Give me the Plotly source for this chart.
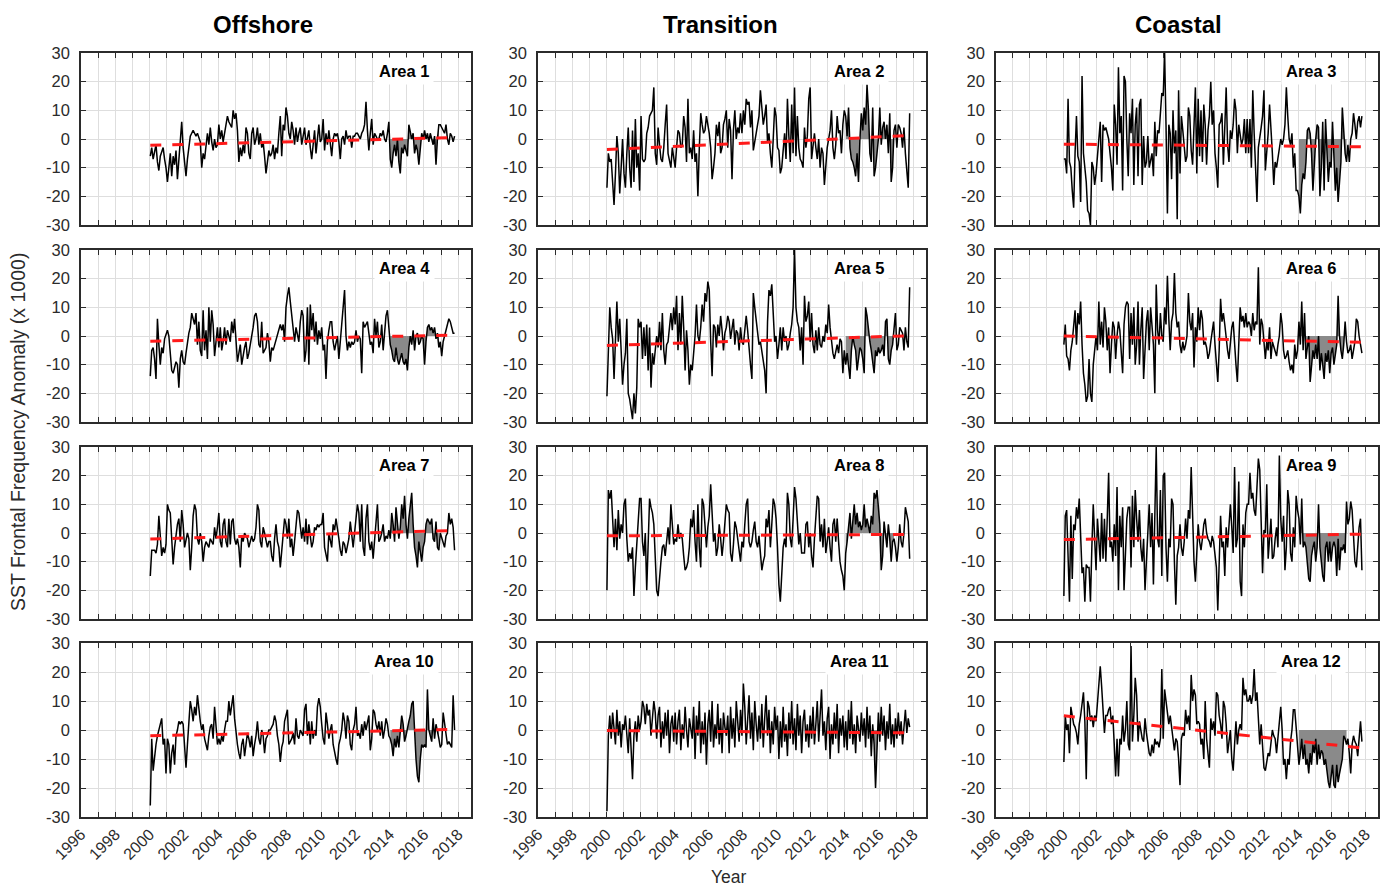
import plotly.graph_objects as go

W, H = 1383, 886

# ---------------- data (monthly anomalies, Jan 2000 .. Oct 2017) ----------------
area1 = [
    -6, -3, -7, -4, -2, -8, -11, -6, -4, -3, -7, -10,
    -15, -9, -5, -13, -6, -9, -4, -14, -7, 0, 6, -3,
    -9, -13, -7, -2, 1, 2, 3, 2, 1, 2, 0, -1,
    -10, -5, -7, -2, 2, -2, 4, -1, -4, 0, -3, -2,
    5, 0, 3, -1, 2, 6, 8, 6, 5, 4, 10, 7,
    9, 3, -8, -3, -6, -2, -5, 4, 2, -5, -7, 2,
    4, -2, 0, 4, -2, 2, -3, -1, -6, -12, -8, -4,
    -6, -5, -2, -7, -3, -5, 2, 8, -6, 5, 3, 11,
    8, 2, 0, 6, 3, -2, 4, -1, 2, 4, -2, 1,
    4, -2, 0, 3, -3, -7, -2, 3, -5, 1, 5, -1,
    0, 7, -4, 2, -2, 3, -2, -6, 0, 2, 1, 2,
    -1, -7, 0, 1, -2, 3, 0, 1, 1, -3, 1, 1,
    2, 2, 1, 0, 2, 3, 5, 13, 3, -4, 2, 7,
    -2, 2, 1, 0, 0, 2, 1, 3, 0, -1, 2, 6,
    -7, -10, -5, -2, -6, 0, -8, -12, -3, -5, -2, -4,
    -6, 5, 2, 0, 2, -5, -2, -4, -9, -3, 2, 0,
    3, 0, 2, -1, 2, 0, -2, 1, -9, 0, 5, 5,
    4, 3, 2, 5, 0, -2, 2, 1, -1, 1,
]
area2 = [
    -17, -5, -8, -7, -15, -23, -12, 1, -5, -19, -10, 0,
    -12, -17, -5, 4, -10, -17, 3, -15, 7, -10, -5, -18,
    8, -7, -8, -7, 2, 4, 8, 9, 10, 18, -5, -9,
    4, -2, -7, -8, -3, 5, 12, -5, -7, -10, -3, -7,
    -10, -3, 3, 2, -3, -2, 8, 4, -8, 14, -5, -3,
    -7, 3, -8, -5, -20, -3, 9, 5, 2, 3, 8, 5,
    2, -3, -14, -10, -5, 5, 1, 6, -5, -3, 5, 7,
    10, -3, 7, 3, -14, 3, 10, 0, 4, 2, 9, 2,
    10, 5, 14, 12, 13, 4, 10, -4, 0, 2, 5, 8,
    17, 12, 5, 8, 12, -1, 2, -5, -10, 0, 11, 8,
    -3, -4, -12, -10, -5, 2, -7, 14, 1, -8, 12, -5,
    18, -6, 8, -3, -7, -8, -10, 4, -3, 1, 14, 18,
    -7, -3, 2, -3, -7, 0, -10, -3, -5, -16, -8, -3,
    0, 3, 10, -3, -7, -2, 8, 2, 3, -5, 5, 10,
    8, 1, 11, -3, -7, -8, -10, -13, -5, -15, 0, 9,
    3, 11, 5, 19, 10, -5, -8, 11, -13, -10, -5, 0,
    11, -2, 4, 6, 0, 5, -5, 9, -15, -10, 3, 5,
    -3, 5, 4, 2, -3, 4, -5, -12, -17, 9,
]
area3 = [
    -7, -7, -12, 14, -8, -10, -18, -24, -5, 8, -6, -8,
    -22, 22, -5, -10, -15, -25, -26, -30, -8, -10, -16, -12,
    -5, 0, 6, -15, 5, 3, 4, 2, 0, -5, -10, -18,
    12, 5, -9, 25, 2, 8, -18, 22, 20, 0, -13, 9,
    2, 14, -16, 5, 11, -13, 12, 14, -16, 1, -10, -8,
    1, -10, -8, -5, -13, 6, -6, 3, 2, 8, 16, 15,
    30, 5, -26, 5, 2, -14, 10, -5, 3, -28, 17, -12,
    8, 3, -3, -8, -6, 11, 8, -4, -9, 2, 18, -12,
    14, -6, 10, -8, 12, 5, -9, 3, 8, 20, 5, 10,
    -5, -10, -17, 5, 6, 9, -9, 4, 18, -2, -8, 3,
    0, 5, 14, 10, -5, 5, 2, -2, 0, 7, -5, 7,
    -5, 7, -10, 17, 2, -8, -22, -3, 0, 4, 8, 17,
    -11, -5, 2, 12, 5, -5, -16, -8, -10, -6, -3, 0,
    -2, 0, 5, 18, 8, 0, -2, 2, -10, -5, -18, -18,
    -20, -26, -16, -12, -14, -8, 3, 4, 2, -5, -18, -8,
    0, 5, 4, -20, -10, 6, -18, 7, -8, -15, -8, -10,
    6, -5, -18, -10, -22, -15, -8, 11, 3, -5, -8, -2,
    -8, 0, 2, 9, 5, 0, 6, 8, 4, 8,
]
area4 = [
    -14, -5, -4, -8, -15, 6, -3, -10, -4, -6, -1, 1,
    2, 0, -5, -12, -13, -11, -9, -10, -18, -8, -5, -9,
    -10, -6, -2, 1, 3, 8, 6, 4, 8, -3, 5, -5,
    -7, 9, -5, 2, -8, 10, -2, 9, 4, -7, -2, 3,
    -4, 3, -5, -2, 3, -3, 2, 0, -2, 5, 1, 6,
    -2, -9, -6, -3, -10, -6, -4, -2, -8, -6, -3, -1,
    3, 7, 8, 5, -3, -4, 5, -6, -5, -4, 1, -2,
    -9, -4, -5, -3, -1, 0, 2, 4, 2, 4, -2, 10,
    14, 17, 12, 8, 4, -2, 3, 1, -2, 5, 9, 7,
    -9, -5, 10, -10, 11, 2, 8, -2, 5, -3, 2, -1,
    3, -5, -3, -15, -2, 2, 5, 5, -2, -5, -2, 0,
    -8, -3, 4, 10, 16, 0, -5, -2, -4, -2, -3, -2,
    2, -2, 0, -1, -13, 5, 3, 4, 5, 1, -3, -2,
    -6, 6, 0, 5, -4, -2, 4, -5, 2, 7, 9, 2,
    -3, -5, -8, -9, -4, -8, -10, -8, -6, -9, -10, -8,
    -12, -4, 0, -3, 2, -5, 0, 1, -3, -2, 0, -1,
    -10, -2, 3, 4, 2, 3, 1, 3, -1, 1, -4, -2,
    -7, -2, 0, 2, 5, 6, 5, 3, 1, 1,
]
area5 = [
    -21, -3, 10, 3, -1, -15, 2, 12, -2, 6, -5, -17,
    -10, -6, 6, -20, -22, -25, -29, -20, -27, -18, 6, 3,
    5, -8, 3, -7, 4, -12, 3, -18, -6, -10, -5, 0,
    -4, 5, -5, 8, -5, -10, -3, -2, 3, 8, 2, 10,
    4, 14, -5, 8, -3, 14, 3, -12, 2, -5, -17, -10,
    -12, -5, 0, 11, 0, -2, 3, 11, 5, 15, 12, 19,
    16, -2, -14, 4, 3, -4, 4, 0, 7, 2, -5, 1,
    3, 7, 5, -1, 3, 6, -3, 2, 1, -5, 3, -2,
    -3, 3, 7, 2, -5, -10, -15, 15, 10, 5, 0, -3,
    -2, -5, -8, -12, -20, 5, 16, 14, 18, 5, -2, 0,
    -8, -3, 3, -5, 3, -2, 0, -5, -3, 1, 4, 10,
    30, 10, 5, 3, -5, 3, -10, 14, 5, 7, 12, -2,
    8, -3, -6, 2, -5, 3, -3, -4, 0, -2, 4, 1,
    11, 3, -3, -6, -8, -5, -3, -6, -1, -2, -13, -5,
    -10, -6, -11, -15, -5, 0, -3, -5, -12, -7, -4, -5,
    -8, -13, 10, 7, 2, -2, -5, -10, -13, -5, -7, -4,
    -6, -5, -3, -7, 5, 6, -8, -10, -5, -3, 3, 8,
    -5, -3, 3, 2, 1, -5, 3, -2, -4, 17,
]
area6 = [
    -3, 4, -7, -8, -12, -5, -2, 4, 9, -3, 8, 4,
    12, -3, -13, -17, -23, -21, -8, -20, -23, -10, -5, 0,
    -5, 12, -3, 5, -4, 10, 5, -5, 3, -13, -3, 5,
    3, -8, 0, 5, 2, -5, -13, 4, 10, 12, 11, -8,
    8, -3, 10, -10, -3, 12, -10, 2, 10, -15, -5, 5,
    9, -5, 10, 4, -3, -20, 18, 2, -3, 8, 0, -2,
    10, 4, 21, 6, -5, 5, 8, 22, 8, 3, 5, -3,
    -6, -2, -5, -3, 0, 15, 5, 2, 8, -11, 3, -2,
    10, 2, 9, 6, -3, -2, -4, -8, -6, -2, 2, 5,
    -3, -9, -16, -5, 13, 5, 8, 4, -2, -5, -8, -3,
    3, 5, -5, -10, -16, -3, 10, 5, 7, 3, 8, 3,
    5, 4, 0, 8, 2, 5, 4, 24, -3, 6, 4, -2,
    -8, -2, -5, 3, -8, -2, -4, -5, -7, -3, 0, 8,
    4, -5, -8, -7, -5, -9, -12, -10, -13, -3, -8, -5,
    5, -3, 12, -5, 8, -8, -3, 0, -16, -10, -5, -8,
    -3, -8, 0, -12, -6, -10, -15, -6, -9, -5, -13, -6,
    -4, -10, -7, -3, 14, 0, -5, -8, -3, 5, -2, -6,
    -5, -3, -8, -5, -2, 6, 5, 0, -4, -6,
]
area7 = [
    -15, -6, -6, -6, -7, -4, 6, -3, -8, -5, -7, -4,
    10, 8, 7, -2, -11, -5, 0, 3, 5, -3, 8, 3,
    -5, -2, 0, -2, -13, -5, 6, 10, 8, -2, -4, 0,
    -3, -10, -5, -3, -4, -5, -2, -3, -4, 2, -2, 2,
    7, -3, -5, 3, 5, -3, -5, 5, -4, 4, 5, -2,
    -4, -2, -5, -12, -1, -3, 0, -1, -2, -5, -3, -1,
    -3, -2, 2, 10, 8, -3, -5, 2, 0, -2, -5, -3,
    -3, -8, -10, -2, 3, -3, -5, -12, -6, 2, 5, 3,
    -2, 5, -5, -2, -8, -3, 2, 8, 7, 3, -2, 2,
    -3, 5, -4, 3, -2, -5, -3, 2, 1, 3, 2, 3,
    3, 7, -5, -7, -10, 0, -2, -5, 3, 1, 5, 2,
    -2, -6, -8, -3, -4, -7, -5, -2, 4, -2, -5, 0,
    5, 10, 7, -3, 10, -5, -8, 5, 10, -3, -6, -3,
    -9, -3, 6, 10, -3, -2, 0, 3, -3, -1, -2, 1,
    -2, 7, 3, -3, 9, 2, -2, 2, 10, 5, 13, 3,
    -2, 5, 10, 14, 3, -5, -8, -12, -3, -6, -10, -5,
    -3, 3, 5, 4, 3, 5, -2, -3, 4, -5, -6, 0,
    -2, -4, -5, -1, 0, 7, 3, 5, 2, -6,
]
area8 = [
    -20, 15, 12, 15, 5, -5, 5, -6, 8, -2, 3, 0,
    10, 12, -2, -10, -7, -9, -5, -22, -12, -3, 5, 12,
    12, -3, -8, 0, -20, -2, 12, 9, 7, 3, -10, -20,
    -22, -15, -10, -5, -4, -8, -3, 2, -4, 10, 3, -4,
    -2, -3, 3, -2, 0, -2, -8, -13, -12, -10, -5, 5,
    2, 8, -3, -10, 10, -5, -12, 12, 10, 3, -5, 2,
    6, 17, 5, -3, 0, -8, -5, 3, -2, -8, -3, 4,
    10, 8, 7, -7, -10, -4, 4, 2, -2, -5, -10, -3,
    -5, 3, 10, 12, -3, -5, -3, 1, 4, -3, -5, -1,
    -8, -13, -10, -8, 5, 2, 8, -5, 3, 12, 10, 5,
    -5, -18, -24, -12, -5, -2, -5, 14, 10, -2, -5, 5,
    16, 12, 5, -4, 0, -7, -7, -7, 3, 4, -5, 0,
    -8, -12, -2, 8, 13, 12, -3, 3, -5, 5, -7, -3,
    2, -5, -10, 3, 5, -3, 5, -3, -10, -13, -15, -20,
    -7, -3, 2, 7, -2, 4, 10, 3, 7, 2, 4, 1,
    3, 10, 2, 5, 2, 0, 6, 3, 14, 12, 15, 8,
    3, -13, -8, 4, -2, -5, 3, -2, -10, -3, -2, -5,
    -10, -5, 3, -3, -5, 0, 9, 7, 4, -9,
]
area9 = [
    -22, 6, 8, -8, -24, 6, -16, 3, 1, 9, 5, 12,
    -2, -14, -12, -24, -11, -12, -12, -24, -5, 10, -2, -13,
    5, -3, -10, 7, -9, 5, -10, 5, 21, -5, -3, -10,
    3, -8, 16, -20, 6, -5, 9, -20, -5, 5, 9, 9,
    -12, 13, -5, 15, 5, -3, 8, -5, -10, -2, -20, -8,
    0, 10, -5, 7, -18, 5, 30, -2, -5, 15, -15, 20,
    21, -5, -17, -2, -5, 12, 10, -10, -25, -8, -5, 3,
    -5, -8, -3, 5, -2, 8, 5, 23, 5, -10, -17, -5,
    3, -3, -6, -2, 3, 5, 0, -2, -3, -5, -1, -3,
    -7, -12, -27, -5, 6, -5, -3, -15, 2, -5, 5, 10,
    2, -7, 23, -5, -2, 18, -17, -22, 3, -5, 7, 10,
    10, 21, 12, 14, 8, 6, 16, 26, 22, 5, -14, 1,
    0, 17, -9, -2, 5, -9, -8, -2, 2, -5, 27, 5,
    -3, 6, -13, -5, 15, 10, -7, -10, 2, -5, 13, 8,
    5, -4, 12, -5, -3, -5, -10, -16, -17, -8, -5, -3,
    -10, -5, 10, -5, -10, -15, -17, -5, -3, -10, -3, -10,
    -5, -3, -5, -15, -2, -13, -5, -6, -4, -7, 11, 3,
    5, 11, 8, -4, -10, -12, -5, 2, 5, -13,
]
area10 = [
    -26, -3, -14, -8, -5, -2, 0, 2, 4, -5, -3, -15,
    -3, -5, -15, -8, -5, -12, -2, 0, 3, 2, 3, 2,
    -8, -13, -5, 3, 10, 7, 3, 8, 5, 12, 6, 3,
    0, 2, -3, -5, -7, -2, 1, 2, -3, 8, 2, -5,
    -3, -5, -2, -4, 0, 3, 3, 10, 5, 8, 12, 4,
    -2, -5, -8, -10, -5, -3, -9, -5, -1, -3, -6, -2,
    -9, -5, -2, 3, -3, -5, 0, -2, -8, -3, -2, 0,
    0, 1, 2, 5, 3, -2, -5, -11, -6, -4, 3, 5,
    7, -5, -4, -3, -1, -5, 4, -2, -3, 0, -1, -2,
    7, 9, -2, 3, -5, 3, -3, 0, -2, 8, 11, 8,
    2, -3, -5, 6, 2, -3, 0, 2, -5, -8, -10, -12,
    -5, -3, 0, 6, 3, -3, 5, 3, -5, -7, 0, 2,
    8, -2, -1, -3, 2, -2, 3, 0, 2, 5, -7, -3,
    7, 6, 2, 0, 3, -2, 3, -3, 0, 4, 2, -2,
    -3, -5, -9, -3, -6, -2, -6, 0, 5, 2, -4, -2,
    1, 3, 5, 9, 10, -3, -10, -16, -18, -10, -5, -6,
    -5, -6, 14, 0, -2, -4, 4, -3, 2, 0, -3, -6,
    -5, 6, 2, -3, -5, -4, -5, -6, 12, 0,
]
area11 = [
    -28, -2, 5, -3, 6, 0, -5, 7, -2, 3, -6, 2,
    0, 5, -3, -8, 4, -5, -17, -2, 3, -4, 5, 0,
    3, 10, 8, 2, 9, 5, 7, -2, 4, 10, 6, -3,
    5, 8, -6, 3, -3, 6, -2, 7, -8, 2, 5, -4,
    6, -5, 3, 7, -7, 2, -3, 8, 0, -6, 4, 1,
    -3, 8, -10, 5, -2, 10, -8, 3, -5, 6, -12, 2,
    7, -4, 10, -6, 2, -3, 9, -5, 4, -8, 6, 1,
    -2, 5, -8, 8, -3, 4, -6, 10, 2, -4, 7, -2,
    16, 8, -5, 3, 12, -3, 6, -7, 10, 2, -4, 5,
    -3, 9, -6, 4, 12, -2, 7, -8, 3, -5, 8, 0,
    5, -10, 3, -6, 8, -4, 2, -9, 6, -3, 10, -5,
    4, -7, 9, -2, 5, -8, 3, 7, -4, 2, -6, 5,
    -3, 8, -5, 2, 10, -4, 6, 14, -2, 3, -7, 4,
    8, -10, 2, -5, 6, -3, 9, -8, 4, -2, 5, -6,
    3, -7, 7, -3, 10, -5, 2, -8, 5, 0, -4, 6,
    -2, 4, -6, 8, -3, 5, -9, 2, -5, -20, -3, 6,
    -4, 8, -2, 5, -7, 3, -3, 9, -5, 2, -6, 4,
    -3, 6, -2, 3, -5, 2, 7, -1, 4, 1,
]
area12 = [
    -11, 5, 0, 2, -8, 8, 5, 2, 1, -1, -5, 2,
    5, 10, 13, 3, -17, 10, 8, 3, 5, 1, 5, 3,
    10, 15, 22, 15, 5, -1, 5, 5, 7, 8, 2, 5,
    -5, -16, -3, -16, -3, -5, 5, -4, 0, 10, -5, -7,
    29, -4, 5, 18, 12, -4, 3, 0, -3, -4, 4, -1,
    -5, -8, -9, -5, -8, -3, -5, -4, -6, -3, 21, -3,
    14, 10, 5, 2, 5, 1, -5, -7, -3, -4, -10, -19,
    -3, -1, -2, 7, 2, 5, 0, 19, 10, 14, 12, 2,
    3, 2, -5, -3, -10, 10, -3, -8, -13, 4, 0, 3,
    -2, 13, 12, 5, 2, -3, 10, 8, 2, -8, -3, 0,
    -10, -14, -5, 3, -5, 0, 2, 0, 18, 12, 14, 10,
    10, 12, 9, 12, 21, 10, 13, 5, -5, 2, -5, -13,
    -14, -10, -8, -9, -4, 0, -2, -3, -8, -3, 3, 8,
    0, -12, -10, -17, -10, -12, -4, 0, 7, 7, 1, -5,
    -12, -8, -3, -10, -5, -12, -10, -15, -8, -12, -5, -8,
    -3, -12, -5, -10, -7, -8, -12, -10, -15, -18, -20, -15,
    -12, -19, -20, -12, -18, -15, -13, -10, -2, -3, -5, -3,
    -8, -15, -5, -2, -4, -5, -9, -3, 3, -4,
]

areas = [area1, area2, area3, area4, area5, area6,
         area7, area8, area9, area10, area11, area12]
area_labels = ["Area 1", "Area 2", "Area 3", "Area 4", "Area 5", "Area 6",
               "Area 7", "Area 8", "Area 9", "Area 10", "Area 11", "Area 12"]
trend_start = [-2.2, -3.7, -1.8, -1.8, -3.3, 0.0, -2.1, -1.0, -2.3, -2.0, -0.2, 4.9]
trend_end = [0.5, 1.2, -2.7, 0.3, 0.1, -2.2, 0.9, -0.5, -0.4, 0.2, -1.0, -6.2]
column_titles = ["Offshore", "Transition", "Coastal"]
year_ticks = list(range(1996, 2019))
year_labels = [str(y) if y % 2 == 0 else "" for y in year_ticks]
y_ticks = [-30, -20, -10, 0, 10, 20, 30]
y_labels = ["-30", "-20", "-10", "0", "10", "20", "30"]
shade_from, shade_to = 168, 203   # Jan 2014 .. Nov 2016 (month indices)

# ---------------- layout geometry (pixels) ----------------
col_px = [(81, 471), (538, 926), (996, 1378)]
row_px = [(53, 225), (250, 422), (447, 619), (643, 817)]
title_px = [263, 720, 1178]

FONT = "Liberation Sans, Arial, Helvetica, sans-serif"
AX = "#2b2b2b"

fig = go.Figure()
layout = dict(
    width=W, height=H, margin=dict(l=0, r=0, t=0, b=0, autoexpand=False),
    paper_bgcolor="white", plot_bgcolor="white", showlegend=False,
    font=dict(family=FONT, size=16, color=AX),
)
annotations = []

for k, vals in enumerate(areas):
    r, c = divmod(k, 3)
    n = k + 1
    xa = "x" if n == 1 else f"x{n}"
    ya = "y" if n == 1 else f"y{n}"
    xs = [2000 + (i + 0.5) / 12 for i in range(len(vals))]

    fig.add_trace(go.Scatter(
        x=xs[shade_from:shade_to], y=vals[shade_from:shade_to], mode="lines",
        fill="tozeroy", fillcolor="#8a8a8a", line=dict(width=0, color="#8a8a8a"),
        xaxis=xa, yaxis=ya, hoverinfo="skip"))
    fig.add_trace(go.Scatter(
        x=xs, y=vals, mode="lines", line=dict(color="black", width=1.5),
        xaxis=xa, yaxis=ya))
    fig.add_trace(go.Scatter(
        x=[xs[0], xs[-1]], y=[trend_start[k], trend_end[k]], mode="lines",
        line=dict(color="#ff1a1a", width=3, dash="11px,11px"),
        xaxis=xa, yaxis=ya))

    x0, x1 = col_px[c]
    y0, y1 = row_px[r]
    xkey = "xaxis" if n == 1 else f"xaxis{n}"
    ykey = "yaxis" if n == 1 else f"yaxis{n}"
    layout[xkey] = dict(
        domain=[x0 / W, x1 / W], range=[1996, 2018.75], anchor=ya, automargin=False,
        tickmode="array", tickvals=year_ticks,
        ticktext=year_labels if r == 3 else [""] * len(year_ticks),
        showticklabels=(r == 3), tickangle=-45,
        ticks="inside", ticklen=5, tickwidth=1.3, tickcolor=AX,
        showline=True, linecolor=AX, linewidth=1.5, mirror="ticks",
        showgrid=True, gridcolor="#dedede", gridwidth=1, zeroline=False,
        tickfont=dict(size=16, color=AX, family=FONT),
    )
    layout[ykey] = dict(
        domain=[1 - y1 / H, 1 - y0 / H], range=[-30, 30], anchor=xa, automargin=False,
        tickmode="array", tickvals=y_ticks, ticktext=y_labels,
        ticks="inside", ticklen=5, tickwidth=1.3, tickcolor=AX,
        ticklabelstandoff=6,
        showline=True, linecolor=AX, linewidth=1.5, mirror="ticks",
        showgrid=True, gridcolor="#dedede", gridwidth=1, zeroline=False,
        tickfont=dict(size=16.5, color=AX, family=FONT),
    )
    annotations.append(dict(
        text=f"<b>{area_labels[k]}</b>", xref=f"{xa} domain", yref=f"{ya} domain",
        x=1 - 67 / (x1 - x0), y=1 - 18 / (y1 - y0), xanchor="center", yanchor="middle",
        showarrow=False, bgcolor="white", borderpad=4,
        font=dict(size=16.5, color="black", family=FONT)))

for c, title in enumerate(column_titles):
    annotations.append(dict(
        text=f"<b>{title}</b>", xref="paper", yref="paper",
        x=title_px[c] / W, y=1 - 24 / H, xanchor="center", yanchor="middle",
        showarrow=False, font=dict(size=24, color="black", family=FONT)))

annotations.append(dict(
    text="SST Frontal Frequency Anomaly (x 1000)", xref="paper", yref="paper",
    x=18 / W, y=1 - 432 / H, xanchor="center", yanchor="middle", textangle=-90,
    showarrow=False, font=dict(size=19.5, color=AX, family=FONT)))
annotations.append(dict(
    text="Year", xref="paper", yref="paper",
    x=729 / W, y=1 - 877 / H, xanchor="center", yanchor="middle",
    showarrow=False, font=dict(size=17.5, color=AX, family=FONT)))

layout["annotations"] = annotations
fig.update_layout(**layout)
fig.write_html("out.html")
